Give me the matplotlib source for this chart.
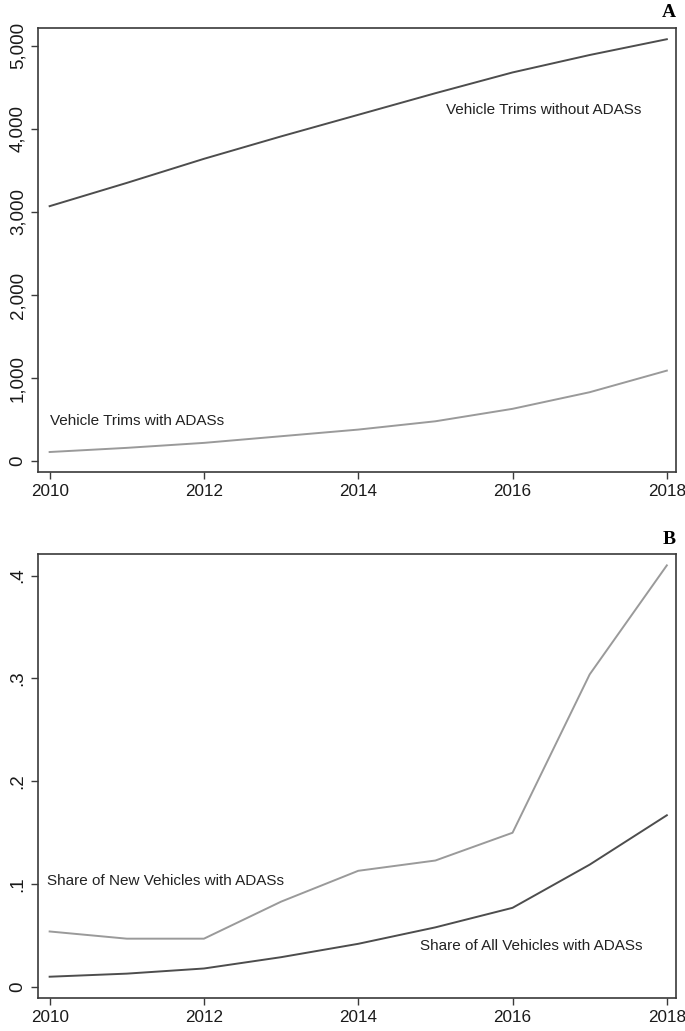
import numpy as np
import matplotlib
matplotlib.use('Agg')
import matplotlib.pyplot as plt
from matplotlib.ticker import FuncFormatter

# data
years = [2010, 2011, 2012, 2013, 2014, 2015, 2016, 2017, 2018]
trims_without = [3070, 3350, 3640, 3910, 4170, 4430, 4680, 4890, 5080]
trims_with = [110, 160, 220, 300, 380, 480, 630, 830, 1090]
share_new = [0.054, 0.047, 0.047, 0.083, 0.113, 0.123, 0.150, 0.304, 0.410]
share_all = [0.010, 0.013, 0.018, 0.029, 0.042, 0.058, 0.077, 0.119, 0.167]

xticks = [2010, 2012, 2014, 2016, 2018]
yticks_a = [0, 1000, 2000, 3000, 4000, 5000]
yticks_b = [0, 0.1, 0.2, 0.3, 0.4]

dark = '#4d4d4d'
light = '#9a9a9a'
frame = '#3a3a3a'

plt.rcParams['font.family'] = ['Liberation Sans', 'DejaVu Sans']

fig = plt.figure(figsize=(6.85, 10.31), dpi=100)
axA = fig.add_axes([0.055, 0.542, 0.932, 0.431])
axB = fig.add_axes([0.055, 0.032, 0.932, 0.431])


def style(ax):
    for s in ax.spines.values():
        s.set_color(frame)
        s.set_linewidth(1.2)
    ax.tick_params(axis='both', direction='out', length=5, width=1, color=frame,
                   labelcolor='#1a1a1a')
    ax.tick_params(axis='x', labelsize=12.3)
    ax.tick_params(axis='y', labelsize=13.5, pad=3)
    ax.set_xticks(xticks)
    ax.set_xlim(2009.845, 2018.12)
    for lab in ax.get_yticklabels():
        lab.set_rotation(90)
        lab.set_va('center')


# panel A
axA.plot(years, trims_without, color=dark, lw=1.4)
axA.plot(years, trims_with, color=light, lw=1.4)
axA.set_yticks(yticks_a)
axA.yaxis.set_major_formatter(FuncFormatter(lambda v, p: '{:,.0f}'.format(v)))
axA.set_ylim(-133, 5217)
style(axA)
axA.text(2015.14, 4230, 'Vehicle Trims without ADASs', fontsize=11, va='center', color='#222222')
axA.text(2010.0, 482, 'Vehicle Trims with ADASs', fontsize=11, va='center', color='#222222')
fig.text(0.987, 0.988, 'A', ha='right', va='center', fontsize=14, fontweight='bold',
         family='Liberation Serif')

# panel B
axB.plot(years, share_new, color=light, lw=1.4)
axB.plot(years, share_all, color=dark, lw=1.4)
axB.set_yticks(yticks_b)
axB.yaxis.set_major_formatter(FuncFormatter(lambda v, p: '0' if v == 0 else ('%.1f' % v).lstrip('0')))
axB.set_ylim(-0.0107, 0.4214)
style(axB)
axB.text(2009.97, 0.103, 'Share of New Vehicles with ADASs', fontsize=11, va='center', color='#222222')
axB.text(2014.80, 0.040, 'Share of All Vehicles with ADASs', fontsize=11, va='center', color='#222222')
fig.text(0.987, 0.477, 'B', ha='right', va='center', fontsize=14, fontweight='bold',
         family='Liberation Serif')

fig.savefig('out.png', dpi=100, facecolor='white')
